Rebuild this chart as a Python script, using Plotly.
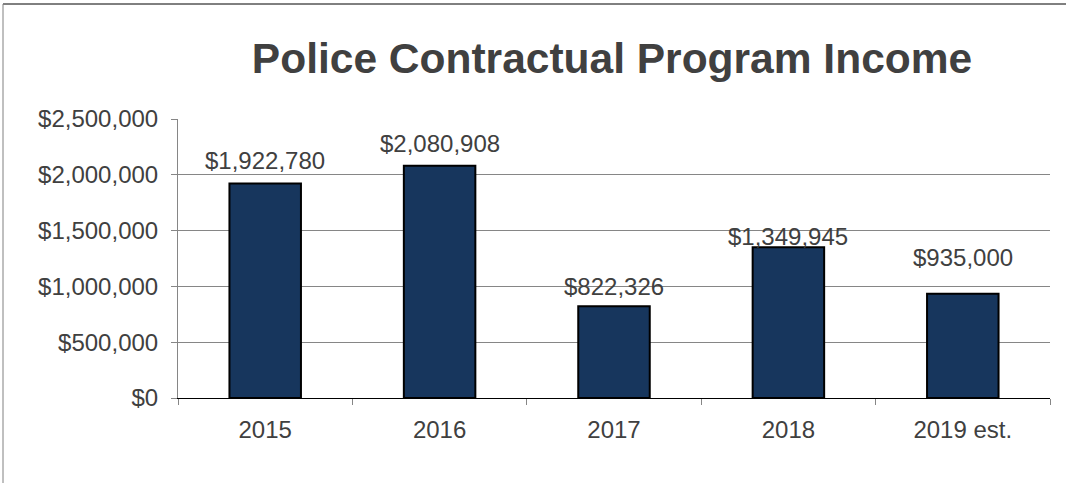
import plotly.graph_objects as go

# Program income by year
years = ["2015", "2016", "2017", "2018", "2019 est."]
income = [1922780, 2080908, 822326, 1349945, 935000]
value_labels = ["$1,922,780", "$2,080,908", "$822,326", "$1,349,945", "$935,000"]
y_ticks = [0, 500000, 1000000, 1500000, 2000000, 2500000]
y_tick_text = ["$0", "$500,000", "$1,000,000", "$1,500,000", "$2,000,000", "$2,500,000"]

# vertical offset (px) of each value label above its bar
label_lift = [23, 22, 20, 11, 36]

TEXT = "#404040"
FONT = "Liberation Sans, Arial, sans-serif"
SIZE = 24

fig = go.Figure(
    go.Bar(
        x=years,
        y=income,
        width=0.41,
        marker=dict(color="#17365D", line=dict(color="#000000", width=2)),
        hoverinfo="skip",
    )
)

# value labels, placed by category index so numeric-looking names stay categorical
for i, (val, txt, lift) in enumerate(zip(income, value_labels, label_lift)):
    fig.add_annotation(
        x=i, y=val, text=txt, showarrow=False,
        yanchor="middle", yshift=lift,
        font=dict(family=FONT, size=SIZE, color=TEXT),
    )

fig.update_layout(
    width=1066, height=483,
    margin=dict(l=178, r=16, t=119, b=85),
    paper_bgcolor="white", plot_bgcolor="white",
    showlegend=False,
    title=dict(
        text="<b>Police Contractual Program Income</b>",
        x=(612 / 1066), xanchor="center",
        y=1 - 58 / 483, yanchor="middle",
        font=dict(family=FONT, size=42.5, color=TEXT),
    ),
    font=dict(family=FONT, size=SIZE, color=TEXT),
)

fig.update_xaxes(
    type="category",
    categoryorder="array", categoryarray=years,
    range=[-0.5, len(years) - 0.5],
    tickson="boundaries",
    ticks="outside", ticklen=6, tickcolor="#868686", tickwidth=1,
    showline=True, linecolor="#000000", linewidth=1,
    showgrid=False,
    tickangle=0,
    ticklabelstandoff=10,
    tickfont=dict(family=FONT, size=SIZE, color=TEXT),
)

fig.update_yaxes(
    range=[0, 2500000],
    tickvals=y_ticks, ticktext=y_tick_text,
    ticks="outside", ticklen=6, tickcolor="#868686", tickwidth=1,
    showline=True, linecolor="#868686", linewidth=1,
    showgrid=True, gridcolor="#868686", gridwidth=1,
    zeroline=False,
    ticklabelstandoff=8,
    tickfont=dict(family=FONT, size=SIZE, color=TEXT),
)

# outer chart frame (top and left edges)
fig.add_shape(type="line", xref="paper", yref="paper",
              x0=(3 - 178) / 872, x1=(1070 - 178) / 872,
              y0=(398 - 4) / 279, y1=(398 - 4) / 279,
              line=dict(color="#000000", width=1))
fig.add_shape(type="line", xref="paper", yref="paper",
              x0=(3 - 178) / 872, x1=(3 - 178) / 872,
              y0=(398 - 4) / 279, y1=(398 - 490) / 279,
              line=dict(color="#808080", width=1))

fig.write_html("out.html")
